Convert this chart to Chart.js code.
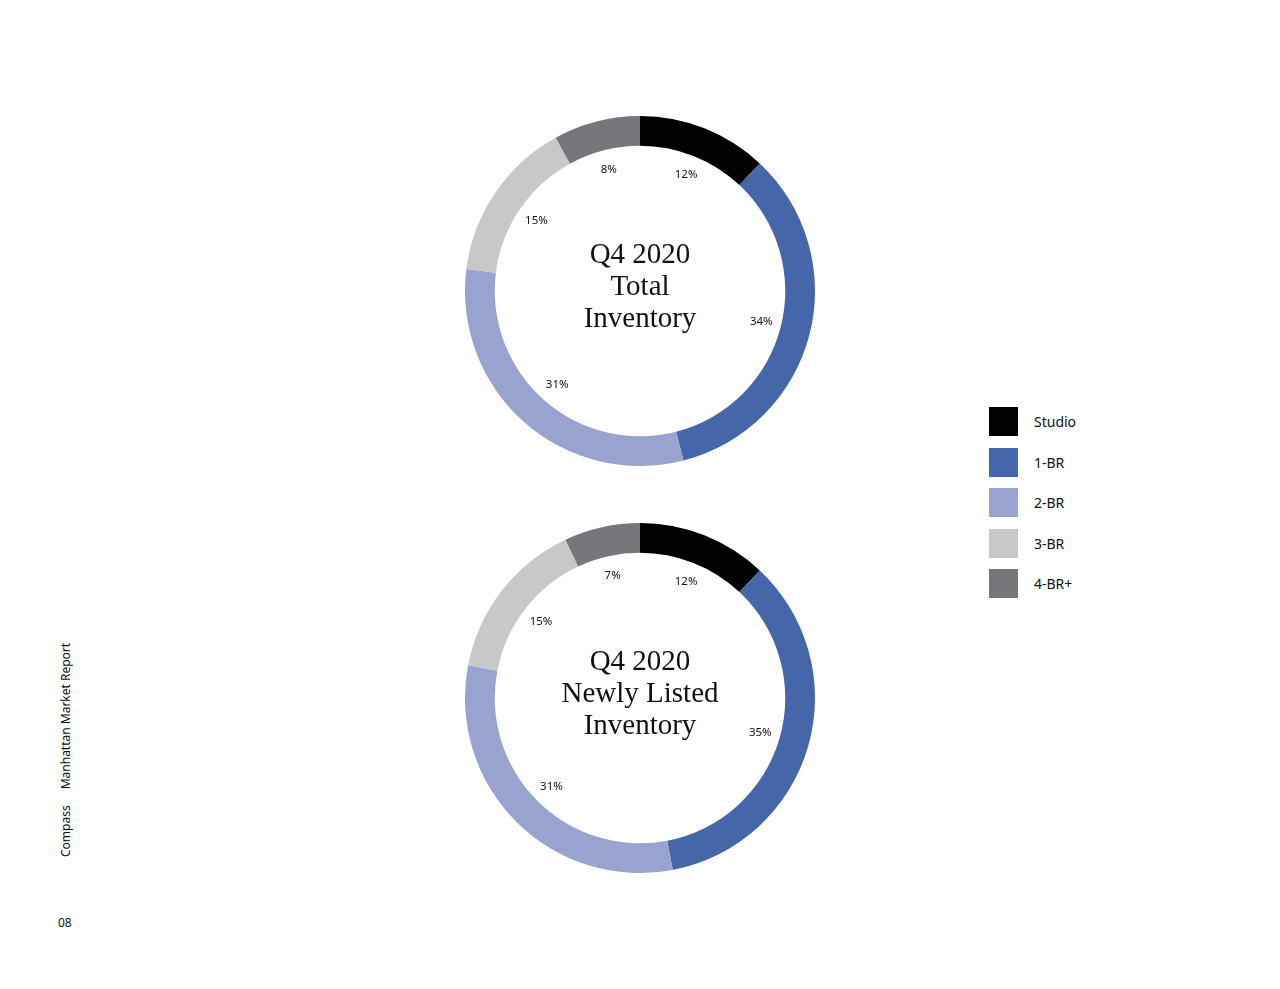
<!DOCTYPE html>
<html>
<head>
<meta charset="utf-8">
<script src="https://cdn.jsdelivr.net/npm/chart.js@4"></script>
<style>
  body { margin: 0; background: #fff; width: 1280px; height: 989px; position: relative; overflow: hidden; font-family: "Noto Sans", sans-serif; }
  .chartBox { position: absolute; left: 465px; width: 350px; height: 350px; }
  #legend { position: absolute; left: 989px; top: 407px; }
  .item { display: flex; align-items: center; height: 29px; margin-bottom: 11.5px; font-size: 14px; color: #111; }
  .swatch { width: 29px; height: 29px; margin-right: 16px; }
  #side { position: absolute; left: 57px; top: 857px; transform-origin: 0 0; transform: rotate(-90deg); font-size: 12px; color: #111; white-space: nowrap; }
  #page { position: absolute; left: 58px; top: 914px; font-size: 12px; color: #111; }
</style>
</head>
<body>
<div class="chartBox" style="top:116px"><canvas id="chartTotal" width="350" height="350"></canvas></div>
<div class="chartBox" style="top:523px"><canvas id="chartNew" width="350" height="350"></canvas></div>
<div id="legend"></div>
<div id="side">Compass<span style="display:inline-block;width:16px"></span>Manhattan Market Report</div>
<div id="page">08</div>
<script>
const categories = ['Studio', '1-BR', '2-BR', '3-BR', '4-BR+'];
const totalInventory = [12, 34, 31, 15, 8];
const newlyListed = [12, 35, 31, 15, 7];
const colors = ['#000000', '#4566a8', '#98a3cf', '#c8c8c8', '#76777b'];

// percent labels inside the ring + title in the hole
const ringText = {
    id: 'ringText',
    afterDraw(chart, args, opts) {
        const ctx = chart.ctx;
        const meta = chart.getDatasetMeta(0);
        ctx.save();
        ctx.fillStyle = '#111';
        ctx.font = '11.5px "Noto Sans", sans-serif';
        ctx.textAlign = 'center';
        ctx.textBaseline = 'middle';
        meta.data.forEach((arc, i) => {
            const mid = (arc.startAngle + arc.endAngle) / 2;
            const r = arc.innerRadius - 20;
            ctx.fillText(chart.data.datasets[0].data[i] + '%', arc.x + Math.cos(mid) * r, arc.y + Math.sin(mid) * r);
        });
        const cx = meta.data[0].x, cy = meta.data[0].y;
        ctx.font = '29px "Liberation Serif", serif';
        const lines = opts.lines;
        lines.forEach((t, i) => {
            ctx.fillText(t, cx, cy + (i - (lines.length - 1) / 2) * 32 - 4);
        });
        ctx.restore();
    }
};

function makeChart(id, values, lines) {
    return new Chart(document.getElementById(id), {
        type: 'doughnut',
        data: {
            labels: categories,
            datasets: [{ data: values, backgroundColor: colors, borderWidth: 0 }]
        },
        options: {
            responsive: false,
            animation: false,
            cutout: '83%',
            plugins: {
                legend: { display: false },
                tooltip: { enabled: false },
                ringText: { lines: lines }
            }
        },
        plugins: [ringText]
    });
}

makeChart('chartTotal', totalInventory, ['Q4 2020', 'Total', 'Inventory']);
makeChart('chartNew', newlyListed, ['Q4 2020', 'Newly Listed', 'Inventory']);

const legend = document.getElementById('legend');
categories.forEach((c, i) => {
    const row = document.createElement('div');
    row.className = 'item';
    row.innerHTML = '<div class="swatch" style="background:' + colors[i] + '"></div>' + c;
    legend.appendChild(row);
});
</script>
</body>
</html>
